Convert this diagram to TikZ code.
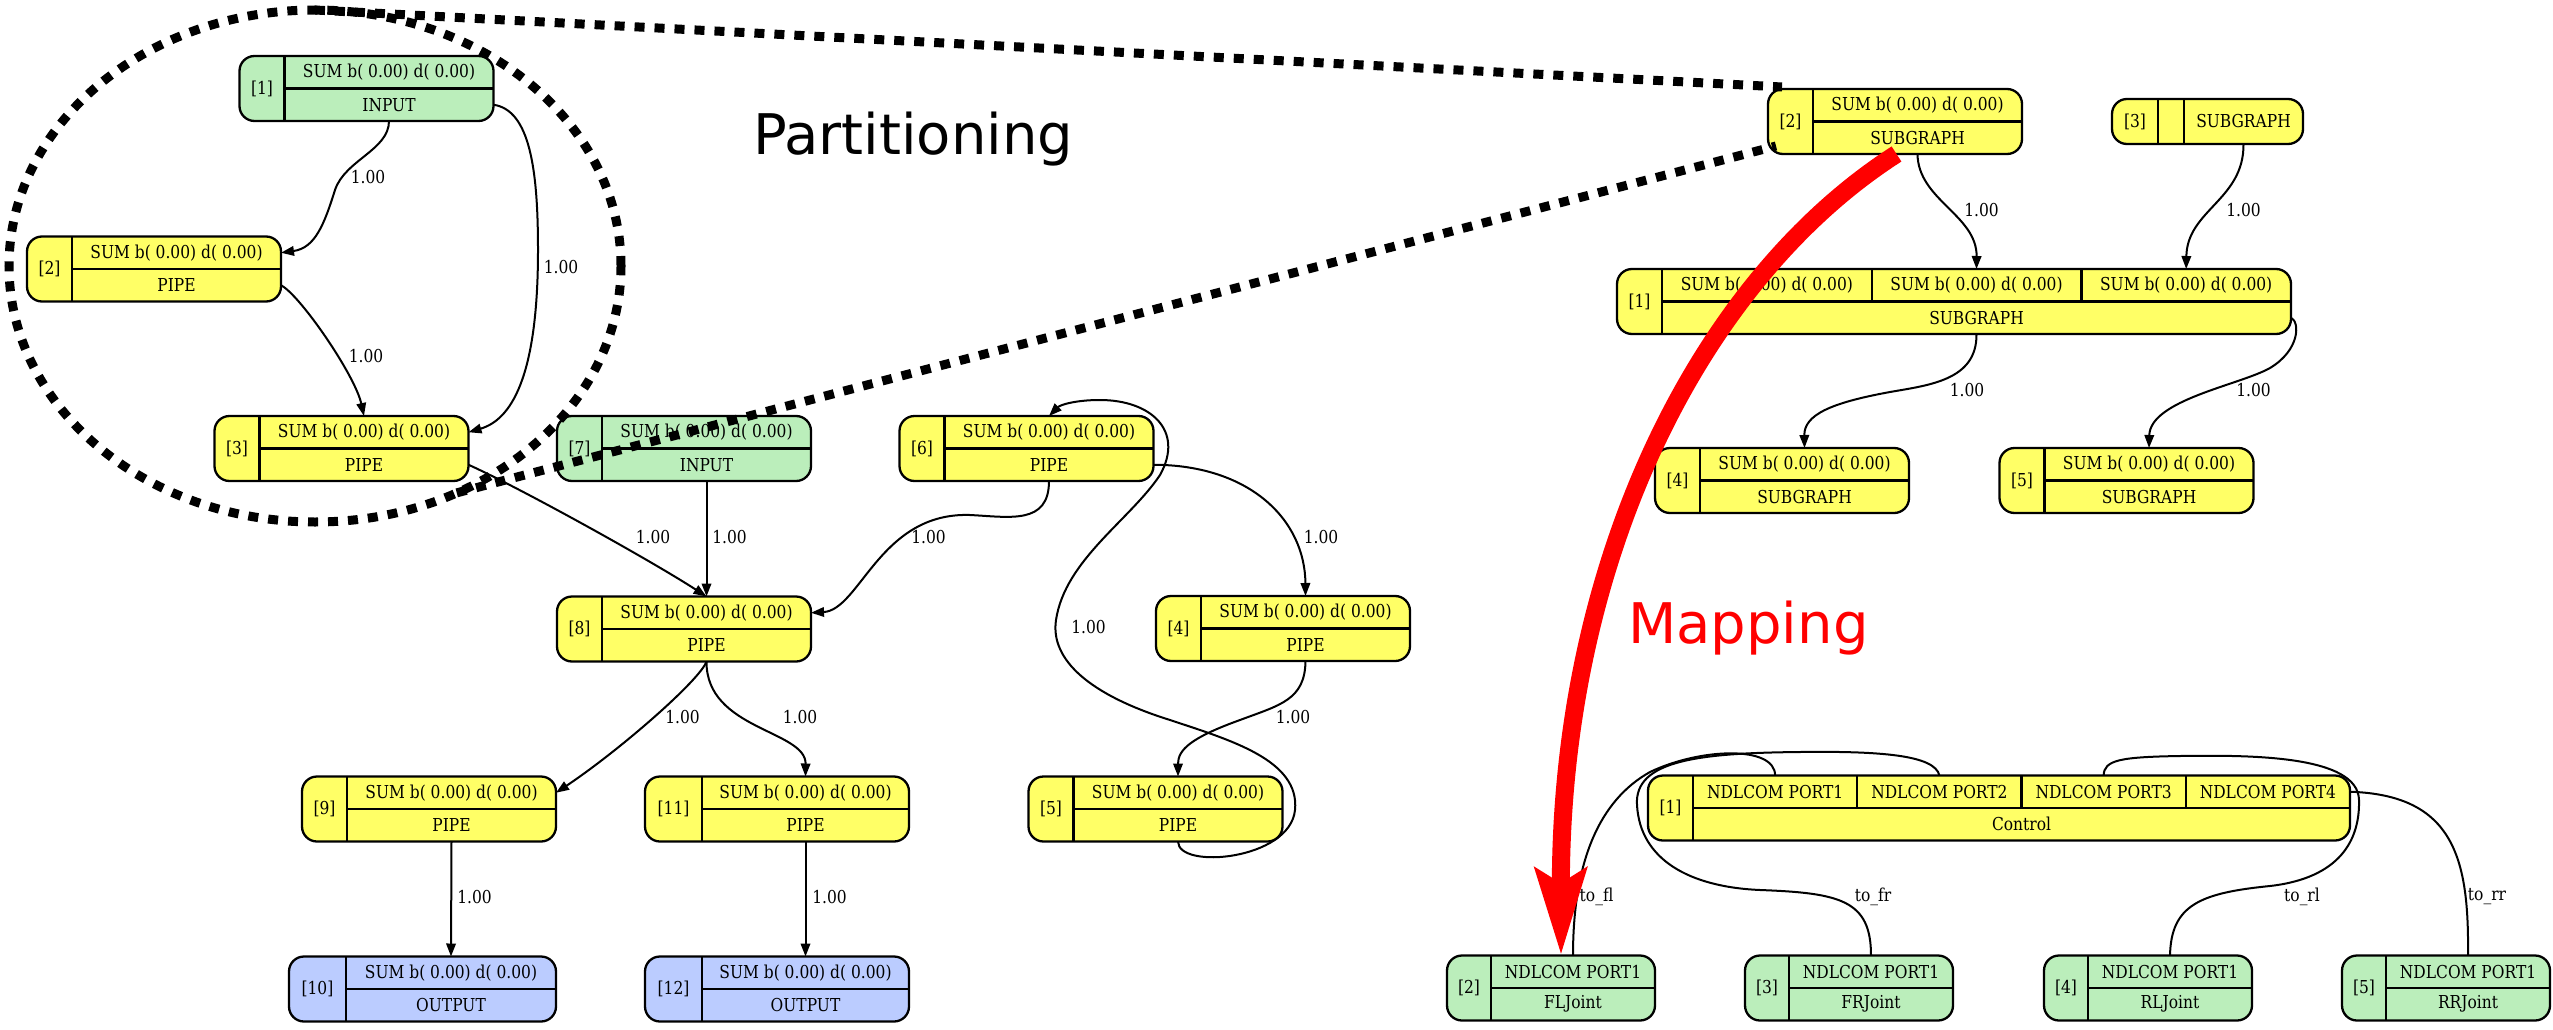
\documentclass[tikz,border=0pt]{standalone}
\usepackage{fontspec}
\usetikzlibrary{arrows.meta,shapes.geometric,calc}

\newfontfamily\recfont[FakeStretch=0.87]{DejaVu Serif}
\newfontfamily\titlefont{DejaVu Sans}

\definecolor{pipecol}{HTML}{FFFF66}
\definecolor{inputcol}{HTML}{BBEEBB}
\definecolor{outputcol}{HTML}{BBCCFF}

\tikzset{
  recbox/.style={draw, line width=2.3pt, rounded corners=15pt, minimum height=65pt, inner sep=0pt, outer sep=0pt},
  cell/.style={inner sep=0pt, outer sep=0pt, minimum height=65pt, font=\recfont\fontsize{17.8}{21}\selectfont},
  halfcell/.style={cell, minimum height=32.5pt},
  recline/.style={line width=2.3pt},
  flow/.style={line width=2pt, -{Triangle[length=13pt,width=9.5pt]}},
  link/.style={line width=2pt},
  lbl/.style={inner sep=0pt, font=\recfont\fontsize{17.8}{21}\selectfont},
  partline/.style={line width=9pt, dash pattern=on 10pt off 10pt},
  mapline/.style={draw=red, line width=18pt, -{Stealth[length=86pt,width=50pt,inset=14pt]}},
  titletext/.style={inner sep=0pt, font=\titlefont\fontsize{56}{60}\selectfont},
}

\newcommand{\sumlabel}{SUM b( 0.00) d( 0.00)}

% -- Record: Name, Farbe, x, y, Breite, Breite links, Nummer, oben, unten --
\newcommand{\recnode}[9]{%
  \node[recbox, fill=#2, minimum width=#5] (#1) at (#3,#4) {};
  \node[cell, minimum width=#5-#6, anchor=east] (#1-b) at (#1.east) {};
  \node[halfcell, minimum width=#5-#6, anchor=north] (#1-t) at (#1-b.north) {#8};
  \node[halfcell, minimum width=#5-#6, anchor=south] (#1-u) at (#1-b.south) {#9};
  \node[cell, minimum width=#6, anchor=west] (#1-i) at (#1.west) {#7};
  \draw[recline] (#1-b.north west) -- (#1-b.south west) (#1-b.west) -- (#1-b.east);
}

\begin{document}
\begin{tikzpicture}[x=1pt, y=-1pt]
    \useasboundingbox (0,0) rectangle (2553,1030);

    % -- Quellgraph (links) --
    \recnode{l1}{inputcol}{366.5}{88.5}{254}{45}{[1]}{\sumlabel}{INPUT}
    \recnode{l2}{pipecol}{154}{269}{254}{45}{[2]}{\sumlabel}{PIPE}
    \recnode{l3}{pipecol}{341.5}{448.5}{254}{45}{[3]}{\sumlabel}{PIPE}
    \recnode{l7}{inputcol}{684}{448.5}{254}{45}{[7]}{\sumlabel}{INPUT}
    \recnode{l6}{pipecol}{1026.5}{448.5}{254}{45}{[6]}{\sumlabel}{PIPE}
    \recnode{l8}{pipecol}{684}{629}{254}{45}{[8]}{\sumlabel}{PIPE}
    \recnode{l4}{pipecol}{1283}{628.5}{254}{45}{[4]}{\sumlabel}{PIPE}
    \recnode{l9}{pipecol}{429}{809}{254}{45}{[9]}{\sumlabel}{PIPE}
    \recnode{l11}{pipecol}{777}{809}{264}{57}{[11]}{\sumlabel}{PIPE}
    \recnode{l5}{pipecol}{1155.5}{809}{254}{45}{[5]}{\sumlabel}{PIPE}
    \recnode{l10}{outputcol}{422.5}{989}{267}{57}{[10]}{\sumlabel}{OUTPUT}
    \recnode{l12}{outputcol}{777}{989}{264}{57}{[12]}{\sumlabel}{OUTPUT}

    % -- Kanten links --
    \draw[flow] (l1-b.south) .. controls (389,150) and (345,160) .. (335,190)
        .. controls (324,225) and (315,248) .. (l2-t.east);
    \draw[flow] (l1-u.east) .. controls (530,110) and (538,170) .. (538,250)
        .. controls (538,380) and (510,420) .. (l3-t.east);
    \draw[flow] (l2-u.east) .. controls (300,295) and (355,375) .. (l3-b.north);
    \draw[flow] (l3-u.east) .. controls (520,488) and (650,560) .. (l8-b.north);
    \draw[flow] (l7-b.south) -- (l8-b.north);
    \draw[flow] (l6-b.south) .. controls (1049,525) and (1010,517) .. (970,515)
        .. controls (880,512) and (860,610) .. (l8-t.east);
    \draw[flow] (l6-u.east) .. controls (1250,465) and (1305,520) .. (l4-b.north);
    \draw[flow] (l4-b.south) .. controls (1305,700) and (1280,705) .. (1240,720)
        .. controls (1190,738) and (1178,750) .. (l5-b.north);
    \draw[flow] (l5-b.south) .. controls (1178,870) and (1290,860) .. (1295,810)
        .. controls (1300,760) and (1230,740) .. (1170,720)
        .. controls (1090,695) and (1050,660) .. (1056,620)
        .. controls (1065,560) and (1130,520) .. (1160,475)
        .. controls (1185,430) and (1150,400) .. (1100,400)
        .. controls (1075,400) and (1060,405) .. (l6-b.north);
    \draw[flow] (l8-b.south) .. controls (700,680) and (620,750) .. (l9-t.east);
    \draw[flow] (l8-b.south) .. controls (706,730) and (806,730) .. (l11-b.north);
    \draw[flow] (l9-b.south) -- (l10-b.north);
    \draw[flow] (l11-b.south) -- (l12-b.north);

    % -- Gewichte links --
    \node[lbl] (w12) at (368,177) {1.00};
    \node[lbl] (w13) at (561,267) {1.00};
    \node[lbl] (w23) at (366,356) {1.00};
    \node[lbl] (w38) at (653,537) {1.00};
    \node[lbl] (w78) at (729.5,537) {1.00};
    \node[lbl] (w68) at (928.5,537) {1.00};
    \node[lbl] (w64) at (1321,537) {1.00};
    \node[lbl] (w56) at (1088.5,627) {1.00};
    \node[lbl] (w89) at (682.5,717) {1.00};
    \node[lbl] (w811) at (800,717) {1.00};
    \node[lbl] (w45) at (1293,717) {1.00};
    \node[lbl] (w910) at (474.5,897) {1.00};
    \node[lbl] (w1112) at (829.5,897) {1.00};

    % -- Partitionierter Graph (rechts oben) --
    \recnode{r2}{pipecol}{1895}{121.5}{254}{45}{[2]}{\sumlabel}{SUBGRAPH}
    \node[recbox, fill=pipecol, minimum width=191, minimum height=45] (r3) at (2207.5,121.5) {};
    \node[cell, minimum width=46, minimum height=45, anchor=west] (r3-i) at (r3.west) {[3]};
    \node[cell, minimum width=26, minimum height=45, anchor=west] (r3-e) at (r3-i.east) {};
    \node[cell, minimum width=119, minimum height=45, anchor=west] (r3-s) at (r3-e.east) {SUBGRAPH};
    \draw[recline] (r3-e.north west) -- (r3-e.south west) (r3-e.north east) -- (r3-e.south east);
    \recnode{r1}{pipecol}{1954}{301.5}{674}{45}{[1]}{}{SUBGRAPH}
    \node[halfcell, minimum width=629/3, anchor=north west] (r1-p1) at (r1-b.north west) {\sumlabel};
    \node[halfcell, minimum width=629/3, anchor=north west] (r1-p2) at (r1-p1.north east) {\sumlabel};
    \node[halfcell, minimum width=629/3, anchor=north west] (r1-p3) at (r1-p2.north east) {\sumlabel};
    \draw[recline] (r1-p1.north east) -- (r1-p1.south east) (r1-p2.north east) -- (r1-p2.south east);
    \recnode{r4}{pipecol}{1782}{480.5}{254}{45}{[4]}{\sumlabel}{SUBGRAPH}
    \recnode{r5}{pipecol}{2126.5}{480.5}{254}{45}{[5]}{\sumlabel}{SUBGRAPH}

    \draw[flow] (r2-b.south) .. controls (1918,200) and (1977,215) .. (r1-p2.north);
    \draw[flow] (r3-s.south) .. controls (2244,200) and (2187,210) .. (r1-p3.north);
    \draw[flow] (r1-b.south) .. controls (1977,380) and (1930,385) .. (1890,392)
        .. controls (1830,403) and (1804,415) .. (r4-b.north);
    \draw[flow] (r1-u.east) .. controls (2300,322) and (2300,350) .. (2270,368)
        .. controls (2240,385) and (2150,400) .. (r5-b.north);

    \node[lbl] (v21) at (1981.5,210) {1.00};
    \node[lbl] (v31) at (2243.5,210) {1.00};
    \node[lbl] (v14) at (1967,390) {1.00};
    \node[lbl] (v15) at (2253.5,390) {1.00};

    % -- Hardware-Graph (rechts unten) --
    \recnode{c1}{pipecol}{1999}{808}{702}{45}{[1]}{}{Control}
    \node[halfcell, minimum width=657/4, anchor=north west] (c1-p1) at (c1-b.north west) {NDLCOM PORT1};
    \node[halfcell, minimum width=657/4, anchor=north west] (c1-p2) at (c1-p1.north east) {NDLCOM PORT2};
    \node[halfcell, minimum width=657/4, anchor=north west] (c1-p3) at (c1-p2.north east) {NDLCOM PORT3};
    \node[halfcell, minimum width=657/4, anchor=north west] (c1-p4) at (c1-p3.north east) {NDLCOM PORT4};
    \draw[recline] (c1-p1.north east) -- (c1-p1.south east) (c1-p2.north east) -- (c1-p2.south east)
        (c1-p3.north east) -- (c1-p3.south east);
    \recnode{c2}{inputcol}{1551}{988}{208}{44}{[2]}{NDLCOM PORT1}{FLJoint}
    \recnode{c3}{inputcol}{1849}{988}{208}{44}{[3]}{NDLCOM PORT1}{FRJoint}
    \recnode{c4}{inputcol}{2148}{988}{208}{44}{[4]}{NDLCOM PORT1}{RLJoint}
    \recnode{c5}{inputcol}{2446}{988}{208}{44}{[5]}{NDLCOM PORT1}{RRJoint}

    \draw[link] (c2-t.north) .. controls (1573,860) and (1600,800) .. (1650,772)
        .. controls (1700,748) and (1775,745) .. (c1-p1.north);
    \draw[link] (c3-t.north) .. controls (1871,900) and (1840,893) .. (1760,890)
        .. controls (1690,887) and (1640,860) .. (1637,805)
        .. controls (1634,760) and (1700,753) .. (1800,752)
        .. controls (1880,751) and (1935,755) .. (c1-p2.north);
    \draw[link] (c4-t.north) .. controls (2171,905) and (2200,893) .. (2270,886)
        .. controls (2340,878) and (2360,840) .. (2359,800)
        .. controls (2358,755) and (2250,755) .. (2180,756)
        .. controls (2120,757) and (2104,760) .. (c1-p3.north);
    \draw[link] (c5-t.north) .. controls (2469,860) and (2455,795) .. (c1-p4.east);

    \node[lbl] (tfl) at (1596.5,897) {to\_fl};
    \node[lbl] (tfr) at (1873,897) {to\_fr};
    \node[lbl] (trl) at (2302,897) {to\_rl};
    \node[lbl] (trr) at (2487,897) {to\_rr};

    % -- Partitionierung (gestrichelter Kreis) --
    \node[ellipse, draw, partline, minimum width=612, minimum height=512, inner sep=0pt, outer sep=0pt] (part) at (315,266) {};
    \draw[partline] (part.north) -- ([shift={(14,-2)}]r2.north west);
    \draw[partline] (part.-58) -- ([shift={(8,-8)}]r2.south west);
    \node[titletext, anchor=base west] (parttitle) at (753,154) {Partitioning};

    % -- Mapping (roter Pfeil) --
    \draw[mapline] ([xshift=-21pt]r2-u.south) .. controls (1700,280) and (1560,560) .. ([xshift=-12pt]c2-t.north);
    \node[titletext, text=red, anchor=base west] (maptitle) at (1628,643) {Mapping};
\end{tikzpicture}
\end{document}
